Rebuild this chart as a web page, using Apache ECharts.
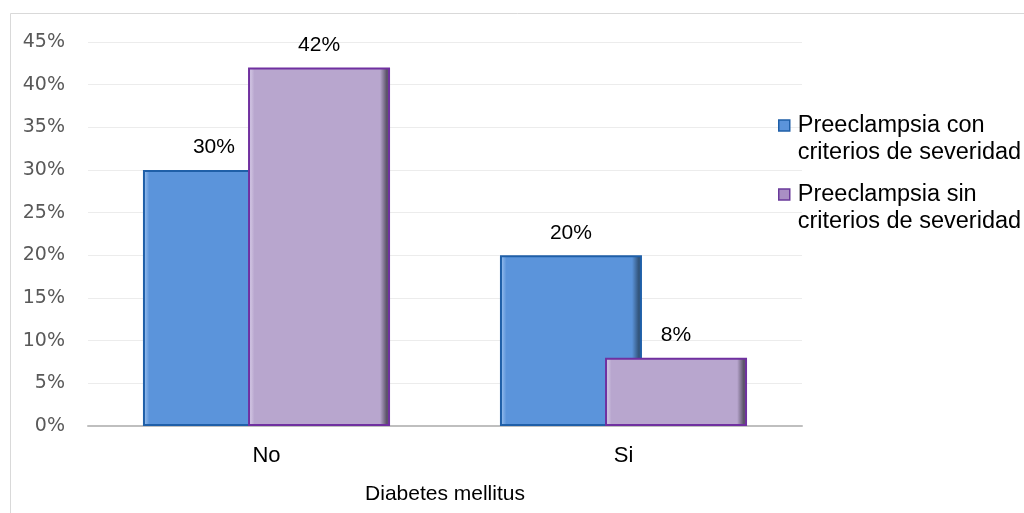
<!DOCTYPE html>
<html>
<head>
<meta charset="utf-8">
<script src="https://cdn.jsdelivr.net/npm/echarts@6/dist/echarts.min.js"></script>
<style>
  html, body { margin: 0; padding: 0; background: #fff; }
  #chart { width: 1024px; height: 513px; }
</style>
</head>
<body>
<div id="chart"></div>
<script>
// Diabetes mellitus by preeclampsia severity (percent of patients)
const categories = ['No', 'Si'];
const seriesNames = [
  'Preeclampsia con\ncriterios de severidad',
  'Preeclampsia sin\ncriterios de severidad'
];
const conSeveridad = [30, 20];
const sinSeveridad = [42, 8];
const axisTitle = 'Diabetes mellitus';

// Fill with shaded side edges to give the bars a bevelled look
function bevel(light, mid, dark) {
  return new echarts.graphic.LinearGradient(0, 0, 1, 0, [
    { offset: 0, color: mid },
    { offset: 0.015, color: light },
    { offset: 0.045, color: mid },
    { offset: 0.93, color: mid },
    { offset: 0.975, color: dark },
    { offset: 1, color: dark }
  ]);
}

const chart = echarts.init(document.getElementById('chart'), null, { renderer: 'canvas' });

const labelStyle = {
  show: true,
  position: 'top',
  distance: 12,
  formatter: '{c}%',
  fontFamily: 'Liberation Sans, Arial, sans-serif',
  fontSize: 21,
  color: '#000'
};

// Legend entries: a blank leading line puts the swatch beside the first text line
const legendText = {
  fontFamily: 'Liberation Sans, Arial, sans-serif',
  fontSize: 23.5,
  lineHeight: 27,
  color: '#000',
  padding: [0, 0, 0, 3]
};
function legendBlock(idx, top, color, border) {
  return {
    orient: 'vertical',
    left: 778,
    top: top,
    padding: 0,
    itemWidth: 11,
    itemHeight: 11,
    icon: 'rect',
    textStyle: legendText,
    formatter: function (name) { return '\n' + name; },
    data: [{ name: seriesNames[idx], itemStyle: { color: color, borderColor: border, borderWidth: 1.5 } }]
  };
}

chart.setOption({
  animation: false,
  backgroundColor: '#fff',
  graphic: [{
    type: 'rect',
    shape: { x: 10.5, y: 13.5, width: 1030, height: 520 },
    style: { fill: 'none', stroke: '#d9d9d9', lineWidth: 1 },
    silent: true,
    z: -1
  }],
  grid: { left: 88, right: 222, top: 42, bottom: 87, containLabel: false },
  legend: [
    legendBlock(0, 85, '#5b94db', '#1f5fa8'),
    legendBlock(1, 154, '#a98fc4', '#6a3a9a')
  ],
  xAxis: {
    type: 'category',
    data: categories,
    name: axisTitle,
    nameLocation: 'middle',
    nameGap: 58,
    nameTextStyle: { fontFamily: 'Liberation Sans, Arial, sans-serif', fontSize: 21, color: '#000' },
    axisLine: { lineStyle: { color: '#bfbfbf', width: 2 } },
    axisTick: { show: false },
    axisLabel: {
      fontFamily: 'Liberation Sans, Arial, sans-serif',
      fontSize: 22,
      color: '#000',
      margin: 19
    }
  },
  yAxis: {
    type: 'value',
    min: 0,
    max: 45,
    interval: 5,
    axisLine: { show: false },
    axisTick: { show: false },
    splitLine: { lineStyle: { color: '#ececec', width: 1 } },
    axisLabel: {
      formatter: '{value}%',
      fontFamily: 'DejaVu Sans, sans-serif',
      fontSize: 19,
      color: '#595959',
      margin: 23
    }
  },
  series: [
    {
      name: seriesNames[0],
      type: 'bar',
      data: conSeveridad,
      barWidth: 142,
      barGap: '-26%',
      itemStyle: {
        color: bevel('#8cb6ea', '#5b94db', '#34577f'),
        borderColor: '#1f5fa8',
        borderWidth: 2
      },
      label: labelStyle
    },
    {
      name: seriesNames[1],
      type: 'bar',
      data: sinSeveridad,
      barWidth: 142,
      barGap: '-26%',
      itemStyle: {
        color: bevel('#d2c6e3', '#b8a6ce', '#5e556b'),
        borderColor: '#7030a0',
        borderWidth: 2
      },
      label: labelStyle
    }
  ]
});
</script>
</body>
</html>
